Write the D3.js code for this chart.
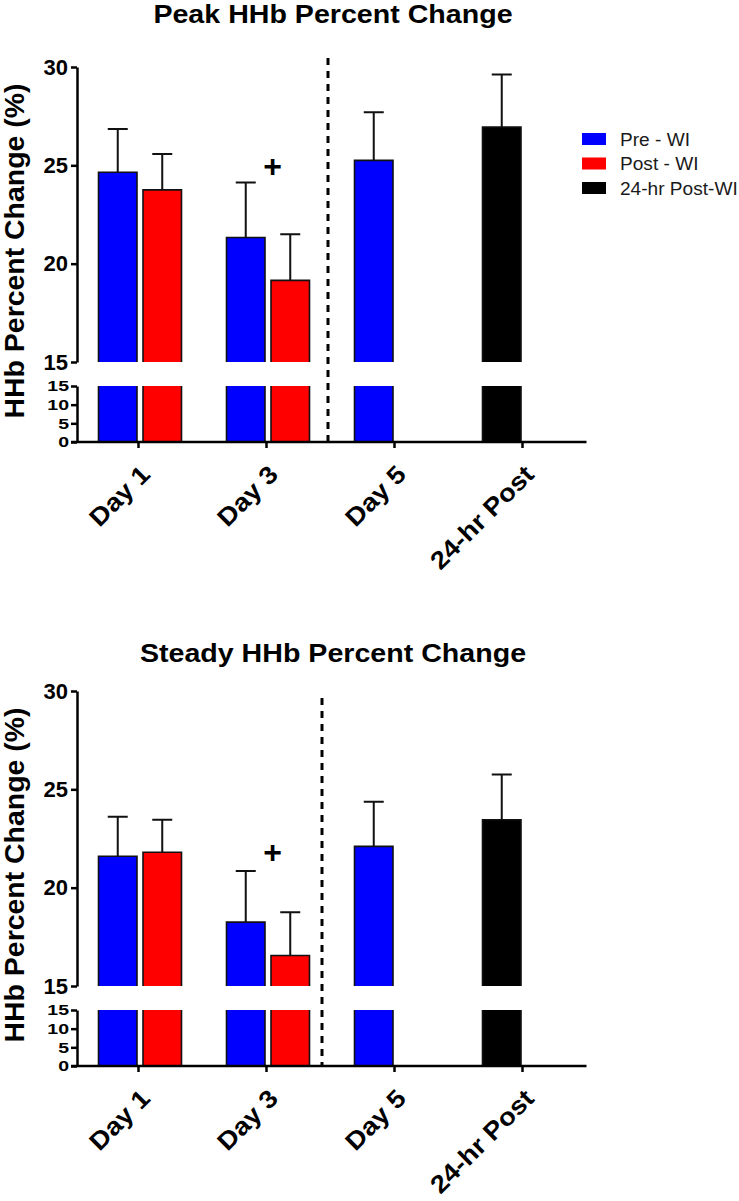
<!DOCTYPE html>
<html><head><meta charset="utf-8">
<script src="https://cdn.jsdelivr.net/npm/d3@7"></script>
<style>
body{margin:0;background:#fff}
svg{display:block}
text{font-family:"Liberation Sans",Arial,Helvetica,sans-serif}
</style>
</head><body>
<svg id="c" width="739" height="1201"></svg>
<script>
// ---------- data ----------
const categories = ["Day 1", "Day 3", "Day 5", "24-hr Post"];
const seriesNames = ["Pre - WI", "Post - WI", "24-hr Post-WI"];
const seriesColors = ["#0000ff", "#ff0000", "#000000"];
const upperTicks = [15, 20, 25, 30];
const lowerTicks = [0, 5, 10, 15];
const titles = ["Peak HHb Percent Change", "Steady HHb Percent Change"];
const yLabel = "HHb Percent Change (%)";

// Peak HHb (mean, SD)
const peakPreMean  = [24.65, 21.33, 25.25, null];
const peakPreSD    = [2.20, 2.80, 2.45, null];
const peakPostMean = [23.75, 19.15, null, null];
const peakPostSD   = [1.82, 2.35, null, null];
const peak24Mean   = [null, null, null, 26.95];
const peak24SD     = [null, null, null, 2.67];

// Steady HHb (mean, SD)
const steadyPreMean  = [21.60, 18.25, 22.10, null];
const steadyPreSD    = [2.00, 2.60, 2.27, null];
const steadyPostMean = [21.80, 16.55, null, null];
const steadyPostSD   = [1.65, 2.20, null, null];
const steady24Mean   = [null, null, null, 23.45];
const steady24SD     = [null, null, null, 2.30];

// "+" significance marks above Day 3 (y value)
const plusMarks = [25.0, 21.8];

// ---------- drawing ----------
const svg = d3.select("#c");
svg.append("rect").attr("width", 739).attr("height", 1201).attr("fill", "#fff");

const x = d3.scaleBand(categories, [74.5, 586.5]);
const slot = d3.scaleBand(["pre", "post"], [-40, 43]).paddingInner(0.135);

function stretch(sel, k) {
  sel.each(function () {
    const L = this.getComputedTextLength();
    d3.select(this).attr("textLength", L * k).attr("lengthAdjust", "spacingAndGlyphs");
  });
}

function panel(dy, titleY, title, series, plusY, dashX, dashTop, showLegend, titleK) {
  const g = svg.append("g").attr("transform", `translate(0,${dy})`);
  const yU = d3.scaleLinear([15, 30], [362, 67]);
  const yL = d3.scaleLinear([0, 15], [442, 386]);

  // bars
  const bars = [];
  series.forEach((s, si) => {
    s.mean.forEach((m, i) => {
      if (m == null) return;
      bars.push({ cat: categories[i], mean: m, sd: s.sd[i], color: seriesColors[si], slot: si === 1 ? "post" : "pre" });
    });
  });
  const bw = slot.bandwidth();
  const bx = d => x(d.cat) + x.bandwidth() / 2 + slot(d.slot);

  const bg = g.append("g");
  // upper segments
  bg.selectAll("rect.u").data(bars).join("rect").attr("class", "u")
    .attr("x", bx).attr("width", bw)
    .attr("y", d => yU(d.mean)).attr("height", d => yU(15) - yU(d.mean))
    .attr("fill", d => d.color);
  bg.selectAll("path.u").data(bars).join("path").attr("class", "u")
    .attr("d", d => `M${bx(d)},${yU(15)}V${yU(d.mean)}H${bx(d) + bw}V${yU(15)}`)
    .attr("fill", "none").attr("stroke", "#111").attr("stroke-width", 1.6);
  // lower segments
  bg.selectAll("rect.l").data(bars).join("rect").attr("class", "l")
    .attr("x", bx).attr("width", bw)
    .attr("y", yL(15)).attr("height", yL(0) - yL(15))
    .attr("fill", d => d.color);
  bg.selectAll("path.l").data(bars).join("path").attr("class", "l")
    .attr("d", d => `M${bx(d)},${yL(0)}V${yL(15)}M${bx(d) + bw},${yL(15)}V${yL(0)}`)
    .attr("fill", "none").attr("stroke", "#111").attr("stroke-width", 1.6);

  // error bars (upper only)
  const eg = g.append("g").attr("stroke", "#111").attr("stroke-width", 2).attr("fill", "none");
  eg.selectAll("path").data(bars).join("path")
    .attr("d", d => {
      const cx = bx(d) + bw / 2;
      return `M${cx},${yU(d.mean)}V${yU(d.mean + d.sd)}M${cx - 10},${yU(d.mean + d.sd)}H${cx + 10}`;
    });

  // dashed separator
  g.append("line").attr("x1", dashX).attr("x2", dashX).attr("y1", dashTop).attr("y2", yL(0))
    .attr("stroke", "#000").attr("stroke-width", 3).attr("stroke-dasharray", "7,6");

  // y axes
  const axU = g.append("g").attr("transform", "translate(77,0)")
    .call(d3.axisLeft(yU).tickValues(upperTicks).tickSize(6).tickSizeOuter(0));
  const axL = g.append("g").attr("transform", "translate(77,0)")
    .call(d3.axisLeft(yL).tickValues(lowerTicks).tickSize(6).tickSizeOuter(0));
  [axU, axL].forEach(a => {
    a.selectAll("path,line").attr("stroke", "#000").attr("stroke-width", 2.5);
    a.selectAll("text").attr("fill", "#000").attr("font-weight", "bold");
  });
  axU.selectAll("text").attr("font-size", 22);
  axL.selectAll("text").attr("font-size", 15).attr("x", -8);
  stretch(axL.selectAll("text"), 1.3);

  // x axis
  const axX = g.append("g").attr("transform", `translate(0,${yL(0)})`)
    .call(d3.axisBottom(x).tickSize(6).tickSizeOuter(0));
  axX.select("path.domain").attr("d", `M71,0H${x.range()[1]}`);
  axX.selectAll("path,line").attr("stroke", "#000").attr("stroke-width", 2.5);
  axX.selectAll("text")
    .attr("font-size", 25).attr("font-weight", "bold").attr("fill", "#000")
    .attr("text-anchor", "end").attr("dy", null).attr("y", 0)
    .attr("transform", "translate(13,34) rotate(-45)");
  stretch(axX.selectAll("text"), 1.1);

  // y label
  g.append("text").attr("transform", "translate(24,251) rotate(-90)")
    .attr("text-anchor", "middle").attr("font-size", 27).attr("font-weight", "bold")
    .text(yLabel).attr("textLength", 335).attr("lengthAdjust", "spacingAndGlyphs");

  // title
  svg.append("text").attr("x", 333).attr("y", titleY).attr("text-anchor", "middle")
    .attr("font-size", 26).attr("font-weight", "bold").text(title)
    .call(s => stretch(s, titleK));

  // plus mark
  g.append("text").attr("x", x("Day 3") + x.bandwidth() / 2 + 6).attr("y", yU(plusY))
    .attr("dy", "0.35em").attr("text-anchor", "middle")
    .attr("font-size", 32).attr("font-weight", "bold").text("+");

  // legend
  if (showLegend) {
    const lg = g.append("g").attr("transform", "translate(582,133)");
    seriesNames.forEach((n, i) => {
      lg.append("rect").attr("x", 0).attr("y", i * 24.5).attr("width", 24).attr("height", 12)
        .attr("fill", seriesColors[i]);
      lg.append("text").attr("x", 38).attr("y", i * 24.5 + 12.5).attr("font-size", 18)
        .attr("fill", "#1a1a1a").text(n).call(s => stretch(s, 1.06));
    });
  }
}

panel(0, 23, titles[0], [
  { mean: peakPreMean, sd: peakPreSD },
  { mean: peakPostMean, sd: peakPostSD },
  { mean: peak24Mean, sd: peak24SD }
], plusMarks[0], 328, 58, true, 1.10);

panel(624, 662, titles[1], [
  { mean: steadyPreMean, sd: steadyPreSD },
  { mean: steadyPostMean, sd: steadyPostSD },
  { mean: steady24Mean, sd: steady24SD }
], plusMarks[1], 322, 74, false, 1.10);
</script>
</body></html>
